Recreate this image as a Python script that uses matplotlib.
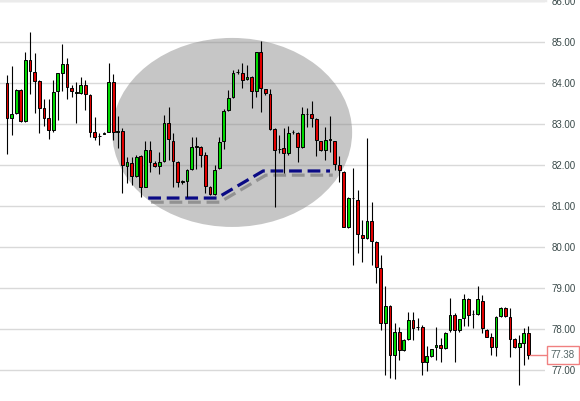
import numpy as np
import matplotlib.pyplot as plt
from matplotlib.patches import Ellipse
import matplotlib.patheffects as pe

# OHLC, one entry per candle
opens = [84.00, 83.15, 83.27, 83.84, 83.08, 84.57, 84.28, 84.06, 83.39, 83.15,
         82.86, 83.80, 84.26, 84.46, 83.89, 83.77, 83.76, 83.96, 83.71, 82.80,
         82.71, 82.77, 82.82, 84.02, 82.82, 82.84, 81.99, 82.06, 81.74, 82.23,
         81.48, 82.37, 82.06, 81.99, 82.11, 83.02, 82.60, 82.09, 81.60, 81.62,
         81.90, 82.45, 82.45, 82.25, 81.48, 81.30, 81.93, 82.58, 83.35, 83.66,
         84.27, 84.26, 84.10, 84.16, 83.80, 84.77, 83.85, 83.73, 82.88, 82.39,
         82.41, 82.31, 82.80, 82.78, 82.44, 83.25, 83.25, 83.13, 82.58, 82.36,
         82.62, 82.58, 82.00, 81.84, 80.50, 81.20, 81.15, 80.30, 80.22, 80.63,
         80.14, 79.49, 78.16, 78.57, 77.37, 77.94, 77.50, 77.76, 78.23, 78.05,
         78.05, 77.19, 77.35, 77.56, 77.62, 77.54, 77.97, 78.35, 77.97, 78.27,
         78.73, 78.37, 78.37, 78.70, 77.98, 77.82, 77.56, 78.32, 78.51, 78.31,
         77.76, 77.56, 77.67, 77.92]
highs = [84.20, 84.42, 83.87, 83.86, 84.75, 85.26, 84.73, 84.08, 83.61, 83.61,
         84.08, 84.26, 84.95, 84.61, 83.96, 84.04, 84.16, 84.08, 83.73, 83.17,
         82.78, 82.80, 84.50, 84.23, 83.19, 82.90, 82.21, 82.21, 82.25, 82.25,
         82.58, 82.58, 82.10, 82.33, 83.23, 83.41, 82.78, 82.11, 81.65, 81.90,
         82.70, 82.70, 82.47, 82.33, 81.50, 82.00, 82.70, 83.37, 83.84, 84.32,
         84.34, 84.49, 84.45, 84.18, 84.77, 85.04, 83.87, 83.85, 82.90, 82.74,
         82.90, 82.96, 82.85, 82.80, 83.41, 83.39, 83.57, 83.15, 82.60, 82.94,
         83.19, 82.60, 82.23, 81.86, 81.23, 81.94, 81.40, 80.67, 82.66, 81.11,
         80.16, 79.81, 79.06, 78.59, 78.15, 78.06, 77.76, 78.43, 78.43, 78.27,
         78.10, 77.58, 77.53, 78.06, 77.78, 77.94, 78.76, 78.40, 78.26, 78.86,
         78.75, 78.47, 79.06, 78.84, 78.00, 77.90, 78.33, 78.55, 78.55, 78.51,
         77.78, 77.86, 78.02, 78.08]
lows = [82.28, 82.74, 83.25, 83.06, 83.06, 83.73, 83.27, 82.78, 82.96, 82.63,
        82.82, 83.10, 83.80, 83.61, 83.67, 83.02, 83.74, 83.35, 82.70, 82.62,
        82.50, 82.75, 82.80, 82.62, 82.41, 81.32, 81.56, 81.52, 81.72, 81.22,
        81.46, 81.84, 81.95, 81.79, 82.09, 82.13, 81.48, 81.48, 81.55, 81.23,
        81.88, 81.90, 81.95, 81.33, 81.28, 81.28, 81.91, 82.39, 83.33, 83.64,
        84.23, 83.88, 84.08, 83.39, 83.67, 83.31, 83.71, 82.86, 80.99, 82.29,
        81.80, 82.25, 82.76, 82.09, 82.42, 82.93, 82.93, 82.23, 82.34, 82.13,
        82.33, 81.89, 81.60, 80.50, 80.48, 79.57, 79.85, 79.64, 80.20, 79.57,
        79.12, 77.98, 76.89, 76.80, 76.78, 77.25, 77.48, 77.74, 77.74, 77.98,
        76.89, 76.97, 77.33, 77.25, 77.21, 77.52, 77.94, 77.19, 77.94, 78.08,
        78.08, 78.02, 78.35, 77.90, 77.80, 77.37, 77.35, 78.30, 78.30, 77.33,
        77.54, 76.64, 77.13, 77.27]
closes = [83.15, 83.25, 83.84, 83.08, 84.57, 84.30, 84.06, 83.40, 83.16, 82.86,
          83.78, 84.24, 84.46, 83.92, 83.80, 83.77, 83.96, 83.73, 82.82, 82.70,
          82.71, 82.79, 84.02, 82.82, 82.82, 82.01, 82.09, 81.74, 82.21, 81.48,
          82.37, 82.09, 81.99, 82.09, 83.02, 82.63, 82.10, 81.58, 81.60, 81.89,
          82.45, 82.47, 82.25, 81.50, 81.30, 81.89, 82.56, 83.33, 83.63, 84.26,
          84.27, 84.08, 84.16, 83.80, 84.77, 83.88, 83.76, 82.88, 82.36, 82.39,
          82.31, 82.78, 82.80, 82.44, 83.24, 83.25, 83.15, 82.62, 82.36, 82.62,
          82.62, 82.03, 81.89, 80.50, 81.21, 81.20, 80.32, 80.22, 80.63, 80.16,
          79.51, 78.16, 78.57, 77.37, 77.94, 77.50, 77.74, 78.23, 78.02, 78.05,
          77.19, 77.35, 77.51, 77.62, 77.54, 77.92, 78.35, 77.97, 78.24, 78.73,
          78.35, 78.37, 78.73, 78.02, 77.82, 77.56, 78.31, 78.51, 78.32, 77.76,
          77.56, 77.67, 77.92, 77.38]

price_ticks = [77, 78, 79, 80, 81, 82, 83, 84, 85, 86]
last_price = 77.38

# hand-drawn markup: highlighted zone and support line
zone_center = (48.8, 82.80)
zone_size = (52.0, 4.61)
support_x = [30.6, 45.5, 55.5, 70.0]
support_y = [81.20, 81.20, 81.86, 81.86]

o = np.array(opens)
h = np.array(highs)
l = np.array(lows)
c = np.array(closes)
x = np.arange(len(o))
up = c >= o
colors = np.where(up, '#00d800', '#e00000')

fig = plt.figure(figsize=(5.8, 4.01), dpi=100)
ax = fig.add_axes([0, 0, 545 / 580, 1])

ax.set_xlim(-1.52, 116.6)
ax.set_ylim(76.25, 86.03)

for p in price_ticks:
    ax.axhline(p, color='#d9d9d9', lw=1.0, zorder=0.5)

ax.add_patch(Ellipse(zone_center, zone_size[0], zone_size[1],
                     facecolor='#888888', alpha=0.48, edgecolor='none', zorder=1))

ax.plot(support_x, support_y, color='#0a0a85', lw=2.3, dashes=(4, 1.8),
        solid_capstyle='butt', dash_capstyle='butt', zorder=2,
        path_effects=[pe.SimpleLineShadow(offset=(2, -3), shadow_color='#444444', alpha=0.4),
                      pe.Normal()])

ax.vlines(x, l, h, color='black', lw=0.8, zorder=3)
ax.bar(x, np.maximum(np.abs(c - o), 0.01), bottom=np.minimum(o, c), width=0.6,
       color=colors, edgecolor='black', linewidth=0.7, zorder=4)

# last price marker
ax.plot([x[-1] + 0.3, 117.5], [last_price, last_price], color='#f08080', lw=1.0,
        clip_on=False, zorder=5)
ax.text(117.8, last_price, f'{last_price:.2f}', ha='left', va='center', fontsize=7,
        family='Liberation Sans', color='#556666', clip_on=False, zorder=6,
        bbox=dict(boxstyle='square,pad=0.4', facecolor='white', edgecolor='#f08080', lw=1.0))

ax.yaxis.tick_right()
ax.set_yticks(price_ticks)
ax.set_yticklabels([f'{p:.2f}' for p in price_ticks], fontsize=7,
                   family='Liberation Sans', color='#3a4a4a')
ax.tick_params(axis='y', length=0, pad=4.5)
ax.set_xticks([])

for s in ['left', 'right', 'bottom']:
    ax.spines[s].set_visible(False)
ax.spines['top'].set_color('#ebebeb')
ax.spines['top'].set_linewidth(2.5)

fig.savefig('out.png', dpi=100)
